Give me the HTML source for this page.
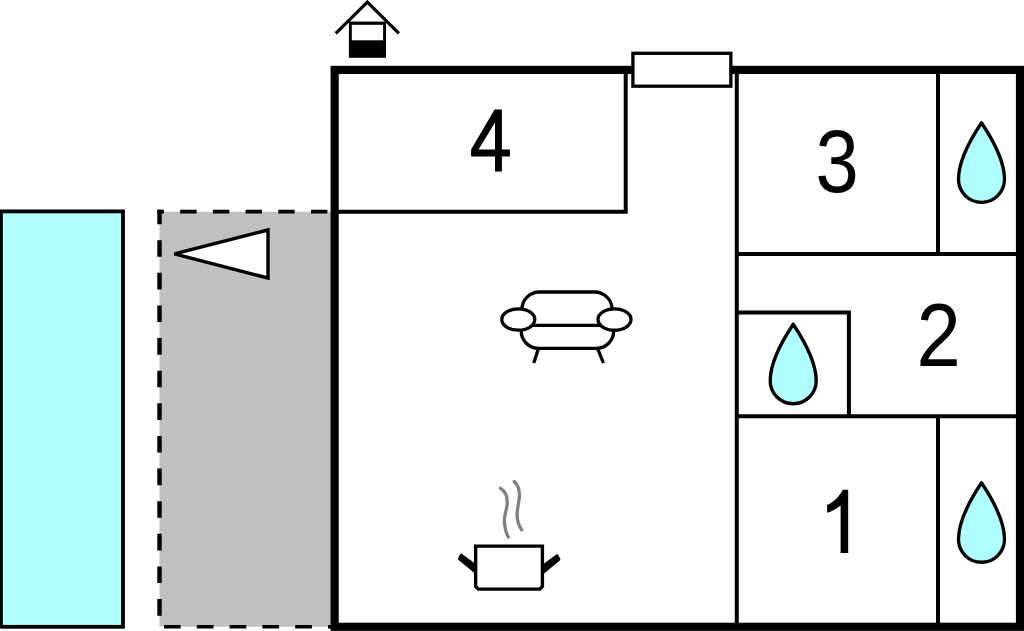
<!DOCTYPE html>
<html>
<head>
<meta charset="utf-8">
<style>
html,body{margin:0;padding:0;background:#fff;overflow:hidden;}
svg{display:block;}
text{font-family:"Liberation Sans",sans-serif;}
</style>
</head>
<body>
<svg width="1024" height="631" viewBox="0 0 1024 631">
<!-- pool -->
<rect x="0.95" y="211.4" width="122.05" height="415.4" fill="#b0ffff" stroke="#000" stroke-width="3.8"/>
<!-- terrace -->
<rect x="159.5" y="211.7" width="171.5" height="415" fill="#c0c0c0"/>
<line x1="157.4" y1="211.7" x2="331" y2="211.7" stroke="#000" stroke-width="3.8" stroke-dasharray="16.4 16.3" stroke-dashoffset="9.9"/>
<line x1="159.5" y1="209.8" x2="159.5" y2="628.6" stroke="#000" stroke-width="4.4" stroke-dasharray="16.6 16.02" stroke-dashoffset="2.2"/>
<line x1="157.4" y1="626.75" x2="331" y2="626.75" stroke="#000" stroke-width="3.6" stroke-dasharray="16.7 16.1" stroke-dashoffset="26.2"/>
<!-- arrow triangle -->
<path d="M174.4,253.9 L268,230 L268,278 Z" fill="#fff" stroke="#000" stroke-width="3.4" stroke-linejoin="miter"/>

<!-- interior walls -->
<g stroke="#000" stroke-width="4" fill="none">
<path d="M334,211.7 L625.7,211.7 L625.7,70"/>
<line x1="736.8" y1="70" x2="736.8" y2="627"/>
<line x1="736.8" y1="254" x2="1020" y2="254"/>
<line x1="938" y1="70" x2="938" y2="254"/>
<line x1="736.8" y1="416.2" x2="1020" y2="416.2"/>
<line x1="938" y1="416.2" x2="938" y2="627"/>
<path d="M736.8,312.5 L848.9,312.5 L848.9,416.2"/>
</g>
<!-- outer wall -->
<rect x="334.65" y="69.9" width="685.35" height="556.9" fill="none" stroke="#000" stroke-width="8.2"/>
<!-- window -->
<rect x="632.9" y="53.3" width="97.95" height="32.9" fill="#fff" stroke="#000" stroke-width="3.3"/>

<!-- house icon -->
<path d="M335.8,33.4 L367.35,2.1 L398.9,33.4" fill="none" stroke="#000" stroke-width="3.2"/>
<rect x="348.9" y="21.6" width="37.1" height="36.2" fill="#000"/>
<rect x="351.8" y="24.8" width="31.3" height="15.5" fill="#fff"/>

<!-- drops -->
<g fill="#b0ffff" stroke="#000" stroke-width="3.35" stroke-linejoin="round">
<path transform="translate(793.2,380.7)" d="M0,-56.5 C11,-40 23,-17 23,0 A23,23 0 0 1 -23,0 C-23,-17 -11,-40 0,-56.5 Z"/>
<path transform="translate(981.5,179.3)" d="M0,-56.5 C11,-40 23,-17 23,0 A23,23 0 0 1 -23,0 C-23,-17 -11,-40 0,-56.5 Z"/>
<path transform="translate(981.5,539.3)" d="M0,-56.5 C11,-40 23,-17 23,0 A23,23 0 0 1 -23,0 C-23,-17 -11,-40 0,-56.5 Z"/>
</g>

<!-- sofa -->
<g stroke="#000" stroke-width="3.3" fill="none">
<path d="M521.9,314 L521.9,309.5 A17.5,17.5 0 0 1 539.4,292 L594.6,292 A17.5,17.5 0 0 1 612.1,309.5 L612.1,314"/>
<path d="M521.2,326 L521.2,331 A17.3,17.3 0 0 0 538.5,348.3 L596.4,348.3 A17.3,17.3 0 0 0 613.7,331 L613.7,326"/>
<line x1="530" y1="325.4" x2="603" y2="325.4"/>
<line x1="538.1" y1="349.5" x2="533.8" y2="363"/>
<line x1="598" y1="349.5" x2="603.4" y2="363"/>
<ellipse cx="518.3" cy="319.5" rx="16.5" ry="10.7" fill="#fff"/>
<ellipse cx="614.5" cy="319.5" rx="16.5" ry="10.7" fill="#fff"/>
</g>

<!-- pot -->
<g fill="#000">
<path d="M541.00,565.80 L556.31,554.55 L556.92,554.22 L557.46,554.19 L557.93,554.46 L558.33,555.02 L560.07,558.38 L560.31,559.06 L560.31,559.70 L560.06,560.28 L559.56,560.81 L541.00,576.00 Z"/>
<path d="M477.40,565.20 L462.09,553.95 L461.48,553.62 L460.94,553.59 L460.47,553.86 L460.07,554.42 L458.33,557.78 L458.09,558.46 L458.09,559.10 L458.34,559.68 L458.84,560.21 L477.40,575.40 Z"/>
</g>
<path d="M475.65,546.1 L475.65,586.5 L478.3,589.15 L539.8,589.15 L542.4,586.5 L542.4,546.1 Z" fill="#fff" stroke="#000" stroke-width="3.4" stroke-linejoin="miter"/>
<g fill="none" stroke="#808080" stroke-width="3.3" stroke-linecap="round">
<path d="M500.5,488.3 C505,491 507.5,496 507.2,503 C507,510 504,515 504.4,521.5 C504.8,528 506,533 508.3,537"/>
<path d="M514.2,481.6 C518,485 519.6,490 519.4,496 C519.2,503 517,508 517.1,515 C517.2,521 519,526 521.6,529.8"/>
</g>

<!-- room numbers -->
<g fill="#000">
<text x="0" y="0" font-size="100" transform="translate(815.5,192.1) scale(0.777,0.894)">3</text>
<text x="0" y="0" font-size="100" transform="translate(916.4,366.3) scale(0.796,0.893)">2</text>
</g>
<path fill-rule="evenodd" d="M471.1,149.4 L494.6,109.4 L501.9,109.4 L501.9,149.4 L509.9,149.4 L509.9,156.6 L501.9,156.6 L501.9,171.6 L495,171.6 L495,156.6 L471.1,156.6 Z M478.6,149.4 L495,149.4 L495,122.6 Z" fill="#000"/>
<path d="M842.8,489.7 L848.2,489.7 L848.2,553.1 L840.6,553.1 L840.6,505.5 C837,508.5 832,511.5 827.1,512.8 L827.1,505 C833,502.5 839,497 842.8,489.7 Z" fill="#000"/>
</svg>
</body>
</html>
